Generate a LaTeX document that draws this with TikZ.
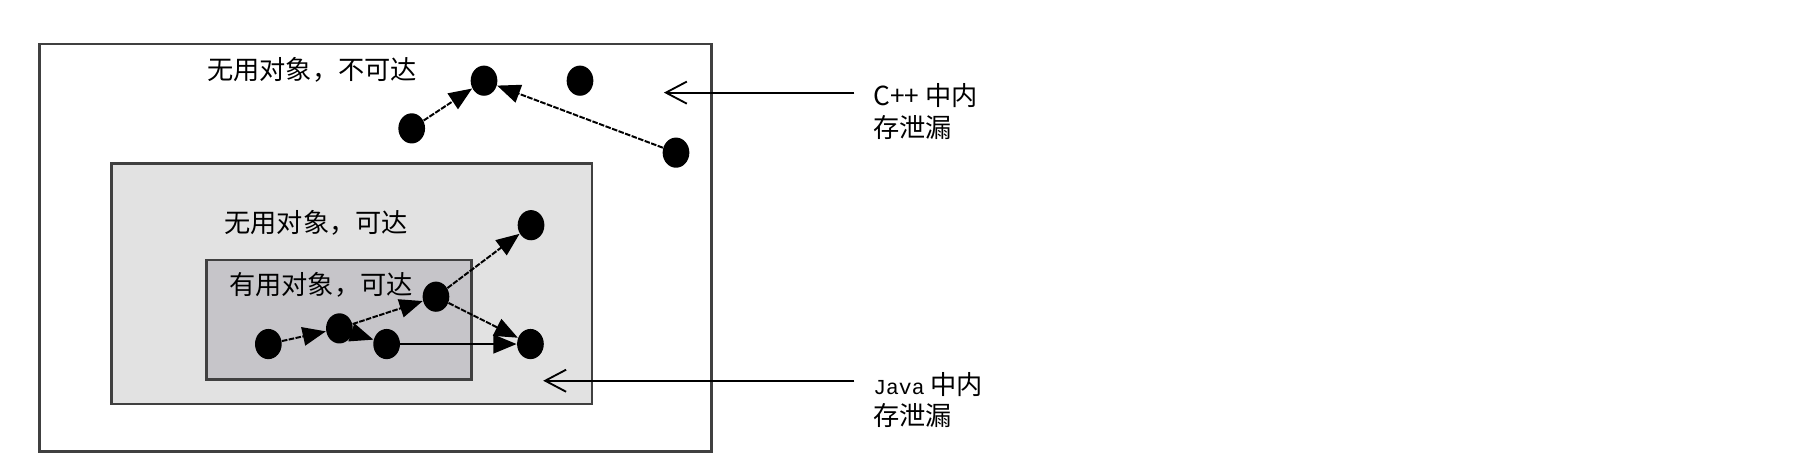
\documentclass[tikz,border=0pt]{standalone}
\usepackage{fontspec}
\newfontfamily\cjk{Noto Sans CJK SC}
\newfontfamily\mono{Liberation Mono}
\usetikzlibrary{arrows.meta,shapes.geometric}
\definecolor{grayfill}{HTML}{E2E2E2}
\definecolor{innerfill}{HTML}{C6C5C9}
\definecolor{boxline}{HTML}{404040}
\begin{document}
\begin{tikzpicture}[x=0.5pt,y=-0.5pt,
  dot/.style={ellipse,fill=black,minimum width=11.5pt,minimum height=13pt,inner sep=0pt},
  lbl/.style={anchor=west,inner sep=0pt,font=\cjk\fontsize{11.3}{13}\selectfont},
  link/.style={line width=0.85pt,dash pattern=on 2.4pt off 0.6pt,-{Triangle[length=10pt,width=8pt]}},
  solidlink/.style={line width=1pt,-{Triangle[length=10pt,width=8pt]}},
  pointer/.style={line width=0.8pt,-{Straight Barb[length=9pt,width=9.5pt,line width=0.8pt]}}
]
\useasboundingbox (0,0) rectangle (1568,398);
\fill[white] (0,0) rectangle (1568,398);
% boxes
\draw[boxline,line width=1pt] (34,38) rectangle (613,389);
\draw[boxline,line width=1.2pt,fill=grayfill] (96,141) rectangle (510,348);
\draw[boxline,line width=1.2pt,fill=innerfill] (178,224) rectangle (406,327);
% texts
\node[lbl] (t1) at (178,60) {无用对象，不可达};
\node[lbl] (t2) at (193,192) {无用对象，可达};
\node[lbl] (t3) at (197,245) {有用对象，可达};
% dots
\node[dot] (A) at (354.7,110.6) {};
\node[dot] (B) at (417,69.5) {};
\node[dot] (C) at (499.7,69.5) {};
\node[dot] (D) at (582.4,131.5) {};
\node[dot] (E) at (457.5,194) {};
\node[dot] (F) at (375.6,255.6) {};
\node[dot] (G) at (292.4,282.9) {};
\node[dot] (H) at (231.2,296.4) {};
\node[dot] (I) at (333.1,296.4) {};
\node[dot] (J) at (457,296.4) {};
% arrows
\draw[link] (A) -- (B);
\draw[link] (D) -- (B);
\draw[link] (H) -- (G);
\draw[link] (G) -- (F);
\draw[link] (G) -- (I);
\draw[link] (F) -- (E);
\draw[link] (F) -- (J);
\draw[solidlink] (I) -- (J);
% pointers
\coordinate (c1) at (736,79.8);
\coordinate (c2) at (572,79.8);
\coordinate (j1) at (736,328);
\coordinate (j2) at (468,328);
\draw[pointer] (c1) -- (c2);
\draw[pointer] (j1) -- (j2);
\node[lbl] (r1) at (752,82) {C++ 中内};
\node[lbl] (r2) at (752,110) {存泄漏};
\node[lbl] (r3) at (752,331) {{\mono\fontsize{9.2}{13}\selectfont Java} 中内};
\node[lbl] (r4) at (752,358) {存泄漏};
\end{tikzpicture}
\end{document}
